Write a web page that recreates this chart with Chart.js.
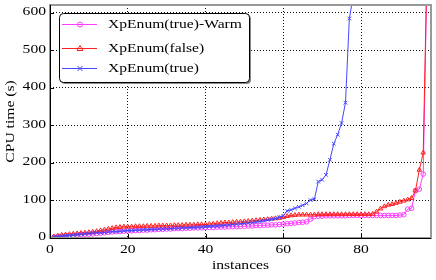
<!DOCTYPE html>
<html>
<head>
<meta charset="utf-8">
<script src="https://cdn.jsdelivr.net/npm/chart.js@4.4.1/dist/chart.umd.min.js"></script>
<style>
  html, body { margin: 0; padding: 0; background: #fff; }
  canvas { display: block; }
</style>
</head>
<body>
<canvas id="cpuChart" width="436" height="280"></canvas>
<script>
// CPU time (s) per instance, sorted
const warmTimes = [
  2, 3, 4, 5, 6, 7, 8, 9, 10, 10,
  11, 12, 13, 14, 15, 16, 17, 17, 18, 19,
  19, 20, 20, 21, 21, 22, 22, 23, 23, 24,
  24, 25, 25, 25, 26, 26, 27, 27, 27, 28,
  28, 28, 29, 29, 29, 30, 30, 30, 31, 31,
  32, 32, 33, 33, 34, 34, 35, 35, 36, 37,
  38, 39, 40, 41, 42, 43, 50, 57, 58, 58,
  59, 59, 59, 59, 59, 59, 60, 60, 60, 60,
  60, 60, 60, 60, 60, 60, 60, 60, 60, 61,
  62, 77, 79, 126, 130, 170, 720
];
const falseTimes = [
  4, 6, 8, 9, 10, 11, 12, 13, 14, 15,
  16, 18, 20, 22, 24, 26, 28, 29, 30, 30,
  30, 31, 31, 31, 32, 32, 32, 33, 33, 33,
  33, 34, 34, 34, 35, 35, 35, 36, 36, 36,
  37, 38, 39, 40, 41, 41, 42, 43, 43, 44,
  45, 46, 47, 48, 49, 50, 51, 52, 53, 55,
  58, 60, 61, 62, 62, 62, 62, 62, 63, 63,
  63, 63, 63, 63, 63, 63, 63, 63, 63, 63,
  63, 63, 64, 70, 78, 84, 88, 90, 93, 96,
  99, 102, 106, 126, 181, 227, 740
];
const trueTimes = [
  3, 4, 5, 6, 7, 8, 9, 10, 11, 12,
  13, 14, 14, 15, 16, 17, 17, 18, 19, 20,
  20, 21, 21, 22, 22, 23, 23, 24, 24, 25,
  25, 26, 26, 27, 27, 28, 28, 29, 29, 30,
  31, 32, 32, 33, 34, 35, 36, 37, 38, 39,
  40, 41, 43, 44, 46, 48, 50, 52, 55, 59,
  72, 75, 79, 83, 87, 92, 101, 103, 150, 155,
  168, 208, 251, 275, 306, 360, 584, 645
];
const seriesNames = ["XpEnum(true)-Warm", "XpEnum(false)", "XpEnum(true)"];
const xTicks = [0, 20, 40, 60, 80];
const yTicks = [0, 100, 200, 300, 400, 500, 600];

const SERIF = '"Liberation Serif", "DejaVu Serif", serif';
const STRETCH = 1.2; // the picture's glyphs are wider than usual
const FONT_PX = 13;

function toPoints(arr) {
  return arr.map((v, i) => ({ x: i + 1, y: v }));
}

function wideText(ctx, str, x, y, align, angle) {
  ctx.save();
  ctx.translate(x, y);
  if (angle) ctx.rotate(angle);
  ctx.scale(STRETCH, 1);
  ctx.font = FONT_PX + "px " + SERIF;
  ctx.fillStyle = "#000";
  ctx.textAlign = align;
  ctx.textBaseline = "middle";
  ctx.fillText(str, 0, 0);
  ctx.restore();
}

function drawMarker(ctx, style, x, y, color) {
  ctx.save();
  ctx.strokeStyle = color;
  ctx.lineWidth = 1;
  ctx.beginPath();
  if (style === "circle") {
    ctx.arc(x, y, 2.5, 0, Math.PI * 2);
  } else if (style === "triangle") {
    ctx.moveTo(x, y - 3);
    ctx.lineTo(x + 3, y + 2);
    ctx.lineTo(x - 3, y + 2);
    ctx.closePath();
  } else {
    ctx.moveTo(x - 2.5, y - 2.5);
    ctx.lineTo(x + 2.5, y + 2.5);
    ctx.moveTo(x + 2.5, y - 2.5);
    ctx.lineTo(x - 2.5, y + 2.5);
  }
  ctx.stroke();
  ctx.restore();
}

const framePlugin = {
  id: "frame",
  afterDatasetsDraw(chart) {
    const ctx = chart.ctx;
    const a = chart.chartArea;
    const xs = chart.scales.x;
    const ys = chart.scales.y;

    // border: grey top/right, black left/bottom
    ctx.save();
    ctx.strokeStyle = "#999";
    ctx.lineWidth = 2;
    ctx.strokeRect(a.left, a.top, a.right - a.left, a.bottom - a.top);
    ctx.strokeStyle = "#000";
    ctx.lineWidth = 1;
    ctx.beginPath();
    ctx.moveTo(a.left + 0.5, a.top);
    ctx.lineTo(a.left + 0.5, a.bottom + 0.5);
    ctx.lineTo(a.right, a.bottom + 0.5);
    // inward tick marks
    yTicks.forEach((v) => {
      const py = Math.round(ys.getPixelForValue(v)) + 0.5;
      ctx.moveTo(a.left, py);
      ctx.lineTo(a.left + 4, py);
    });
    xTicks.forEach((v) => {
      const px = Math.round(xs.getPixelForValue(v)) + 0.5;
      ctx.moveTo(px, a.bottom);
      ctx.lineTo(px, a.bottom - 4);
    });
    ctx.stroke();
    ctx.restore();

    // tick labels
    yTicks.forEach((v) => wideText(ctx, String(v), a.left - 4, ys.getPixelForValue(v) - 1, "right"));
    xTicks.forEach((v) => wideText(ctx, String(v), xs.getPixelForValue(v), a.bottom + 12, "center"));

    // axis titles
    wideText(ctx, "instances", (a.left + a.right) / 2, 266, "center");
    wideText(ctx, "CPU time (s)", 11, (a.top + a.bottom) / 2, "center", -Math.PI / 2);

    // legend box inside the plot
    const bx = 59, by = 13, bw = 190, bh = 69;
    ctx.save();
    ctx.fillStyle = "#888";
    ctx.beginPath();
    ctx.roundRect(bx + 2, by + 2, bw, bh, 4);
    ctx.fill();
    ctx.fillStyle = "#fff";
    ctx.strokeStyle = "#000";
    ctx.lineWidth = 1;
    ctx.beginPath();
    ctx.roundRect(bx + 0.5, by + 0.5, bw, bh, 4);
    ctx.fill();
    ctx.stroke();
    ctx.restore();

    const rowY = [24, 48, 68];
    chart.data.datasets.forEach((ds, i) => {
      const y = rowY[i];
      ctx.save();
      ctx.strokeStyle = ds.borderColor;
      ctx.lineWidth = 1;
      ctx.beginPath();
      ctx.moveTo(62, y + 0.5);
      ctx.lineTo(97, y + 0.5);
      ctx.stroke();
      ctx.restore();
      drawMarker(ctx, ds.pointStyle, 80, y + 0.5, ds.borderColor);
      wideText(ctx, ds.label, 108, y + 1, "left");
    });
  }
};

function makeSet(label, data, color, style, order, radius) {
  return {
    label: label,
    data: toPoints(data),
    borderColor: color,
    backgroundColor: "rgba(0,0,0,0)",
    borderWidth: 1,
    pointStyle: style,
    pointRadius: radius,
    pointBorderWidth: 1,
    pointBorderColor: color,
    pointBackgroundColor: "rgba(0,0,0,0)",
    tension: 0,
    order: order,
  };
}

new Chart(document.getElementById("cpuChart").getContext("2d"), {
  type: "line",
  data: {
    datasets: [
      makeSet(seriesNames[0], warmTimes, "#ff3cff", "circle", 3, 2.3),
      makeSet(seriesNames[1], falseTimes, "#ff2020", "triangle", 2, 2.6),
      makeSet(seriesNames[2], trueTimes, "#4646ff", "crossRot", 1, 2.6),
    ],
  },
  options: {
    responsive: false,
    animation: false,
    layout: { padding: { top: 5, right: 5, left: 0, bottom: 0 } },
    plugins: { legend: { display: false }, tooltip: { enabled: false } },
    scales: {
      x: {
        type: "linear",
        min: 0,
        max: 98,
        afterBuildTicks: (s) => { s.ticks = xTicks.map((v) => ({ value: v })); },
        afterFit: (s) => { s.height = 42; },
        ticks: { display: false },
        grid: { color: "#111", lineWidth: 1, drawTicks: false },
        border: { display: false, dash: [1, 2] },
      },
      y: {
        type: "linear",
        min: 0,
        max: 620,
        afterBuildTicks: (s) => { s.ticks = yTicks.map((v) => ({ value: v })); },
        afterFit: (s) => { s.width = 50; },
        ticks: { display: false },
        grid: { color: "#111", lineWidth: 1, drawTicks: false },
        border: { display: false, dash: [1, 2] },
      },
    },
  },
  plugins: [framePlugin],
});
</script>
</body>
</html>
